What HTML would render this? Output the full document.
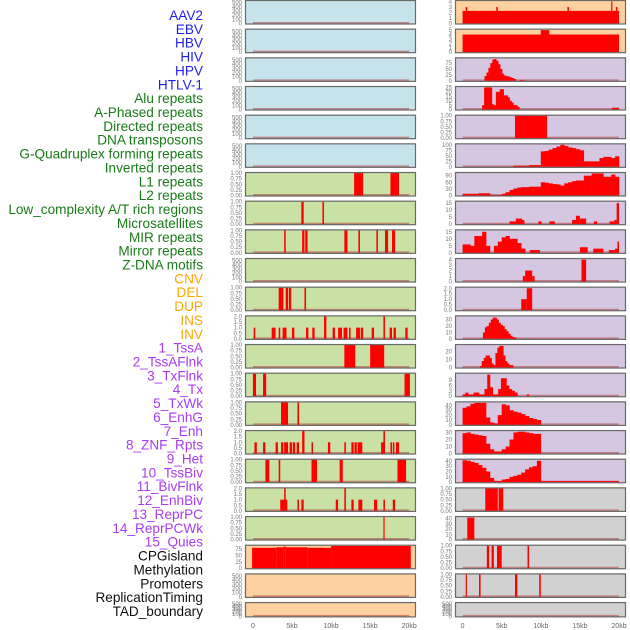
<!DOCTYPE html>
<html><head><meta charset="utf-8"><style>
html,body{margin:0;padding:0;background:#fff;}
svg{display:block;}
text{font-family:"Liberation Sans",sans-serif;}
</style></head><body>
<svg id="chart" width="630" height="630" viewBox="0 0 630 630"></svg>
<script>
// ---------- data ----------
const labelNames = ["AAV2","EBV","HBV","HIV","HPV","HTLV-1","Alu repeats","A-Phased repeats","Directed repeats","DNA transposons","G-Quadruplex forming repeats","Inverted repeats","L1 repeats","L2 repeats","Low_complexity A/T rich regions","Microsatellites","MIR repeats","Mirror repeats","Z-DNA motifs","CNV","DEL","DUP","INS","INV","1_TssA","2_TssAFlnk","3_TxFlnk","4_Tx","5_TxWk","6_EnhG","7_Enh","8_ZNF_Rpts","9_Het","10_TssBiv","11_BivFlnk","12_EnhBiv","13_ReprPC","14_ReprPCWk","15_Quies","CPGisland","Methylation","Promoters","ReplicationTiming","TAD_boundary"];
const labelGroups = [6,13,5,15,5];
const groupColors = ["#1f1fee","#1a7a1a","#ffa500","#a83cf0","#111111"];
const xTicks = [0,5,10,15,20];
const xTickLabels = ["0","5kb","10kb","15kb","20kb"];

const ticksCount = [0,100,200,300,400,500];
const ticksFrac = [0,0.25,0.5,0.75,1];
const ticksFracLabels = ["0.00","0.25","0.50","0.75","1.00"];
const ticksHalf = [0,0.5,1,1.5,2];
const ticksHalfLabels = ["0.0","0.5","1.0","1.5","2.0"];

// left column segments [startKb, endKb, value]
const leftL1 = [[12.95,14.1,1],[17.6,18.7,1]];
const leftL2 = [[6.2,6.5,1],[8.9,9.1,1]];
const leftLow = [[4.0,4.2,1],[6.3,6.6,1],[6.7,7.0,1],[11.7,12.1,1],[13.5,13.7,1],[15.8,16.0,1],[16.9,17.3,1],[17.8,18.2,1]];
const leftMicro = [[3.3,3.9,1],[4.2,4.5,1],[4.6,4.9,1],[6.6,6.8,1]];
const leftMIR = [[0.1,0.3,1],[2.4,2.9,1],[3.3,3.5,1],[3.8,4.3,1],[5.0,5.3,1],[6.8,7.1,1],[7.6,7.9,1],[9.1,9.4,2],[10.2,10.5,1],[10.9,11.4,1],[11.6,12.1,1],[12.3,12.5,1],[13.2,13.7,1],[13.8,14.1,1],[15.2,15.5,1],[16.7,16.9,2],[17.5,17.8,1],[18.0,18.3,1],[19.5,19.8,1]];
const leftMirror = [[11.7,13.1,1],[15.0,16.8,1]];
const leftZDNA = [[0,0.4,1],[1.3,1.7,1],[19.4,20.1,1]];
const leftCNV = [[3.6,4.5,1],[5.7,5.9,1]];
const leftDEL = [[0.2,0.5,1],[1.3,1.6,1],[2.9,3.2,1],[3.6,3.9,1],[4.0,4.5,1],[4.7,5.0,1],[5.1,5.4,1],[5.6,5.9,1],[6.3,6.6,2],[7.5,7.7,1],[9.6,9.9,1],[11.7,11.9,1],[12.6,12.9,1],[13.0,13.3,1],[13.4,14.0,1],[16.4,16.9,1],[16.7,16.9,2],[17.6,17.8,1],[17.9,18.1,1],[18.3,18.7,1]];
const leftDUP = [[1.6,2.1,1],[3.3,3.5,1],[7.5,8.2,1],[11.1,11.5,1],[18.5,19.6,1]];
const leftINS = [[3.5,4.4,1],[4.0,4.2,2],[5.7,5.9,1],[6.2,6.5,1],[10.6,10.9,1],[11.7,11.9,2],[12.6,12.9,1],[13.5,14.0,1],[15.5,15.9,1],[16.7,16.9,1],[17.9,18.2,1]];
const leftINV = [[16.7,16.8,1]];
const leftTssA = [[-0.1,3,79],[3,3.9,81],[3.9,4.2,84],[4.2,7,81],[7,10,79],[10,20.2,86]];

// right column segments and profiles [startKb, binKb, values]
const rightA = [[0,20,2.3],[0.4,0.6,3],[4.3,4.5,3],[13.4,13.6,3],[19.0,19.1,4],[19.6,19.8,3]];
const rightB = [[0,20,4],[10,11.1,5]];
const rightHIVprof = [20,35,55,75,90,92,85,70,50,30,22,20,18,15,12,8];
const rightHIVsegs = [[7.3,7.9,3]];
const rightHPVprof = [5,25,25,25,25,6,5,20,20,23,23,16,16,14,10,8,5,5,3];
const rightHPVsegs = [[19.1,20,2]];
const rightHTLV = [[6.7,10.8,1]];
const rightAluProf = [5,5,5,5,8,8,8,70,72,78,85,92,100,95,88,85,80,75,25,25,25,25,40,45,45,40,48];
const rightAphProf = [8,8,8,8,10,10,10,2,2,2,8,15,25,32,36,38,38,40,40,40,60,58,55,52,50,45,55,60,65,68,68,90,90,100,100,100,85,85,95,85];
const rightDirSegs = [[6.0,6.8,2],[6.8,7.6,4],[7.6,7.9,3],[9.7,10.1,2],[11.1,11.8,2],[14.0,14.5,3],[14.5,15.0,6],[15.0,15.8,4],[16.8,17.2,2],[18.8,19.4,2],[19.4,19.7,3],[19.7,20,15]];
const rightDNAprof1 = [6,6,5,12,12,15,5];
const rightDNAprof2 = [5,8,11,12,10,10,7,3];
const rightDNAsegs = [[8.6,9.9,2],[15.0,16.0,4],[16.7,18.0,3],[18.7,19.5,2],[19.5,19.8,3],[19.8,20,8]];
const rightGQ = [[7.7,8.0,1],[8.0,8.9,2],[8.9,9.2,1],[15.2,15.8,4]];
const rightInv = [[7.5,8.2,1],[8.2,8.9,2]];
const rightL1prof = [10,18,20,25,30,33,33,30,25,22,20,15,12,8,5,3,2];
const rightL2prof = [2,8,12,15,15,12,5,3,18,25,27,27,15,8,5,3,3];
const rightLowProf = [1,2,1,1,2,2,1,1,4,12,5,1,1,4,10,10,6,4,3,2];
const rightLowSegs = [[8.2,8.5,1]];
const rightMicroProf = [35,38,43,45,45,45,15,5,3,20,42,40,30,27,25,22,18,14,12,10];
const rightMIRprof = [29,30,28,27,26,25,14,6,3,3,6,10,20,30,31,31,30,29,28,28];
const rightMirrorProf = [41,40,38,36,32,27,20,8,2,2,5,6,10,12,14,18,24,28,30,40];
const rightMirrorSegs = [[10,20,2]];
const rightZ = [[2.9,4.5,1],[4.6,5.2,1]];
const rightCNV = [[0.6,1.5,42]];
const rightDEL = [[3.1,3.4,1],[3.7,4.0,1],[4.4,5.0,1],[8.3,8.5,1]];
const rightDUP = [[0.4,0.55,1],[2.1,2.3,1],[6.7,7.0,1],[9.8,10.0,1]];

// ---------- layout ----------
const svg = document.getElementById('chart');
const NS = 'http://www.w3.org/2000/svg';
function mk(tag, attrs, parent){const e=document.createElementNS(NS,tag);for(const k in attrs)e.setAttribute(k,attrs[k]);(parent||svg).appendChild(e);return e;}

const BLUE="#c6e3eb", GREEN="#c9e1a5", ORANGE="#fdd09f", PURPLE="#d5c6e1", GRAY="#d1d1d1";
const cols = [{x0:245,x1:416,k0:252.9,k20:409.2},{x0:455,x1:626,k0:462.6,k20:619}];
function xs(c,kb){return c.k0+(c.k20-c.k0)*kb/20;}

function P(bg,ymax,ticks,tlabels,extra){return Object.assign({bg:bg,ymax:ymax,ticks:ticks,tl:tlabels||ticks.map(String),segs:[],profs:[]},extra||{});}
const emptyL = ()=>P(BLUE,540,ticksCount);
const leftPanels = [
 emptyL(),emptyL(),emptyL(),emptyL(),emptyL(),emptyL(),
 P(GREEN,1,ticksFrac,ticksFracLabels,{segs:leftL1}),
 P(GREEN,1,ticksFrac,ticksFracLabels,{segs:leftL2}),
 P(GREEN,1,ticksFrac,ticksFracLabels,{segs:leftLow}),
 P(GREEN,540,ticksCount),
 P(GREEN,1,ticksFrac,ticksFracLabels,{segs:leftMicro}),
 P(GREEN,2,ticksHalf,ticksHalfLabels,{segs:leftMIR}),
 P(GREEN,1,ticksFrac,ticksFracLabels,{segs:leftMirror}),
 P(GREEN,1,ticksFrac,ticksFracLabels,{segs:leftZDNA}),
 P(GREEN,1,ticksFrac,ticksFracLabels,{segs:leftCNV}),
 P(GREEN,2,ticksHalf,ticksHalfLabels,{segs:leftDEL}),
 P(GREEN,1,ticksFrac,ticksFracLabels,{segs:leftDUP}),
 P(GREEN,2,ticksHalf,ticksHalfLabels,{segs:leftINS}),
 P(GREEN,1,ticksFrac,ticksFracLabels,{segs:leftINV}),
 P(ORANGE,87,[0,25,50,75],null,{segs:leftTssA}),
 P(ORANGE,540,ticksCount),
 P(ORANGE,540,ticksCount)
];
const rightPanels = [
 P(ORANGE,4.1,[0,1,2,3,4],null,{segs:rightA}),
 P(ORANGE,5.1,[0,1,2,3,4,5],null,{segs:rightB}),
 P(PURPLE,95,[0,25,50,75],null,{segs:rightHIVsegs,profs:[[2.8,0.25,rightHIVprof]]}),
 P(PURPLE,25.5,[0,5,10,15,20,25],null,{segs:rightHPVsegs,profs:[[2.5,0.25,rightHPVprof]]}),
 P(PURPLE,1,ticksFrac,ticksFracLabels,{segs:rightHTLV}),
 P(PURPLE,102,[0,25,50,75,100],null,{profs:[[6.5,0.5,rightAluProf]]}),
 P(PURPLE,102,[0,30,60,90],null,{profs:[[0,0.5,rightAphProf]]}),
 P(PURPLE,16,[0,5,10,15],null,{segs:rightDirSegs}),
 P(PURPLE,16,[0,5,10,15],null,{segs:rightDNAsegs,profs:[[0,0.5,rightDNAprof1],[4,0.5,rightDNAprof2]]}),
 P(PURPLE,4.1,[0,1,2,3,4],null,{segs:rightGQ}),
 P(PURPLE,2.05,ticksHalf,ticksHalfLabels,{segs:rightInv}),
 P(PURPLE,35,[0,10,20,30],null,{profs:[[2.6,0.25,rightL1prof]]}),
 P(PURPLE,28,[0,10,20],null,{profs:[[2.2,0.25,rightL2prof]]}),
 P(PURPLE,12.5,[0,3,6,9],null,{segs:rightLowSegs,profs:[[0,0.35,rightLowProf]]}),
 P(PURPLE,46,[0,10,20,30,40],null,{profs:[[0,0.5,rightMicroProf]]}),
 P(PURPLE,32,[0,10,20,30],null,{profs:[[0,0.5,rightMIRprof]]}),
 P(GRAY,1,ticksFrac,ticksFracLabels,{segs:rightZ}),
 P(GRAY,43,[0,10,20,30,40],null,{segs:rightCNV}),
 P(GRAY,1,ticksFrac,ticksFracLabels,{segs:rightDEL}),
 P(GRAY,1,ticksFrac,ticksFracLabels,{segs:rightDUP}),
 P(GRAY,540,ticksCount),
 P(GRAY,540,ticksCount)
];
// fix: right rows 15-17 need mirror panel & order (rows index 14..16 purple, 16 is mirror)
rightPanels[16] = P(PURPLE,42,[0,10,20,30,40],null,{segs:rightMirrorSegs,profs:[[0,0.5,rightMirrorProf]]});
rightPanels.splice(17,0,P(GRAY,1,ticksFrac,ticksFracLabels,{segs:rightZ}));
rightPanels.length = 22;

// ---------- labels ----------
let gi=0, gc=0;
labelNames.forEach((name,i)=>{
  while(gc>=labelGroups[gi]){gi++;gc=0;}
  gc++;
  const t = mk('text',{x:203,y:(15+i*13.86+5).toFixed(1),'text-anchor':'end','font-size':'13.6',fill:groupColors[gi]});
  
  
  t.textContent = name;
});

// ---------- panels ----------
function drawPanel(p, c, r, side){
  const top = r*28.67, h = (r===21)?15.3:24.5, bot = top+h;
  const g = mk('g',{});
  
  
  const bgRect = mk('rect',{x:c.x0,y:top,width:c.x1-c.x0,height:h,fill:p.bg},g);
  
  
  const ys = v => bot-1-(h-2)*v/p.ymax;
  // baseline
  const bl = mk('line',{x1:xs(c,0),x2:xs(c,20),y1:bot-1.5,y2:bot-1.5,stroke:'#b04040','stroke-opacity':'0.55','stroke-width':'2'},g);
  
  
  p.profs.forEach(pr=>{
    const st=pr[0], bw=pr[1], vals=pr[2];
    vals.forEach((v,i)=>{
      const xa=xs(c,st+i*bw), xb=xs(c,st+(i+1)*bw);
      const rr = mk('rect',{x:xa.toFixed(2),y:ys(v).toFixed(2),width:(xb-xa+0.3).toFixed(2),height:Math.max(0,bot-1-ys(v)).toFixed(2),fill:'#ff0000'},g);
      
      
    });
  });
  p.segs.forEach(s=>{
    const xa=Math.max(c.x0+1,xs(c,s[0])), xb=Math.min(c.x1-1,xs(c,s[1]));
    const rr = mk('rect',{x:xa.toFixed(2),y:ys(s[2]).toFixed(2),width:Math.max(1.2,xb-xa).toFixed(2),height:(bot-1-ys(s[2])).toFixed(2),fill:'#ff0000'},g);
    
    
  });
  const br = mk('rect',{x:c.x0+0.5,y:top+0.5,width:c.x1-c.x0-1,height:h-1,fill:'none',stroke:'#6a6a6a','stroke-width':'1.2'},g);
  
  
  p.ticks.forEach((t,i)=>{
    const tt = mk('text',{x:c.x0-3,y:(ys(t)+2).toFixed(2),'text-anchor':'end','font-size':'6',fill:'#777'},g);
    
    
    tt.textContent = p.tl[i];
  });
}
leftPanels.forEach((p,r)=>drawPanel(p,cols[0],r,'left'));
rightPanels.forEach((p,r)=>drawPanel(p,cols[1],r,'right'));

// ---------- x axes ----------
cols.forEach((c,ci)=>{
  xTicks.forEach((k,i)=>{
    const t = mk('text',{x:xs(c,k).toFixed(1),y:628,'text-anchor':'middle','font-size':'7',fill:'#666'});
    
    
    t.textContent = xTickLabels[i];
  });
});
</script>
</body></html>
